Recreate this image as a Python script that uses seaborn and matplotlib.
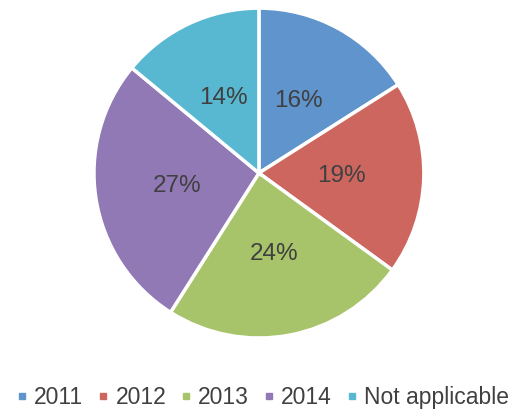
import matplotlib
matplotlib.use("Agg")
import matplotlib.pyplot as plt
from matplotlib.lines import Line2D
import seaborn as sns

# Data
labels = ["2011", "2012", "2013", "2014", "Not applicable"]
shares = [16, 19, 24, 27, 14]
colours = ["#5F94CC", "#CE6660", "#A8C46A", "#9179B5", "#58B8D1"]

sns.set_style("white")
plt.rcParams["font.family"] = ["Liberation Sans", "DejaVu Sans"]
palette = sns.color_palette(colours)

fig = plt.figure(figsize=(5.22, 4.15), dpi=100)
ax = fig.add_axes([0.180, 0.1855, 0.632, 0.795])

wedges, texts, autotexts = ax.pie(
    shares, colors=palette, startangle=90, counterclock=False,
    autopct="%d%%", pctdistance=0.5,
    wedgeprops={"edgecolor": "white", "linewidth": 2.5},
    textprops={"fontsize": 17.5, "color": "#404040"})
ax.set_aspect("equal")
ax.set_xlim(-1, 1)
ax.set_ylim(-1, 1)

# Legend with small square markers
handles = [Line2D([0], [0], marker="s", linestyle="", markersize=4,
                  markerfacecolor=c, markeredgecolor=c) for c in palette]
fig.legend(handles, labels, loc="center", bbox_to_anchor=(0.505, 0.042),
           ncol=5, frameon=False, fontsize=16.5, handletextpad=0.35,
           columnspacing=0.7, handlelength=0.35, labelcolor="#404040")

fig.savefig("out.png", dpi=100)
